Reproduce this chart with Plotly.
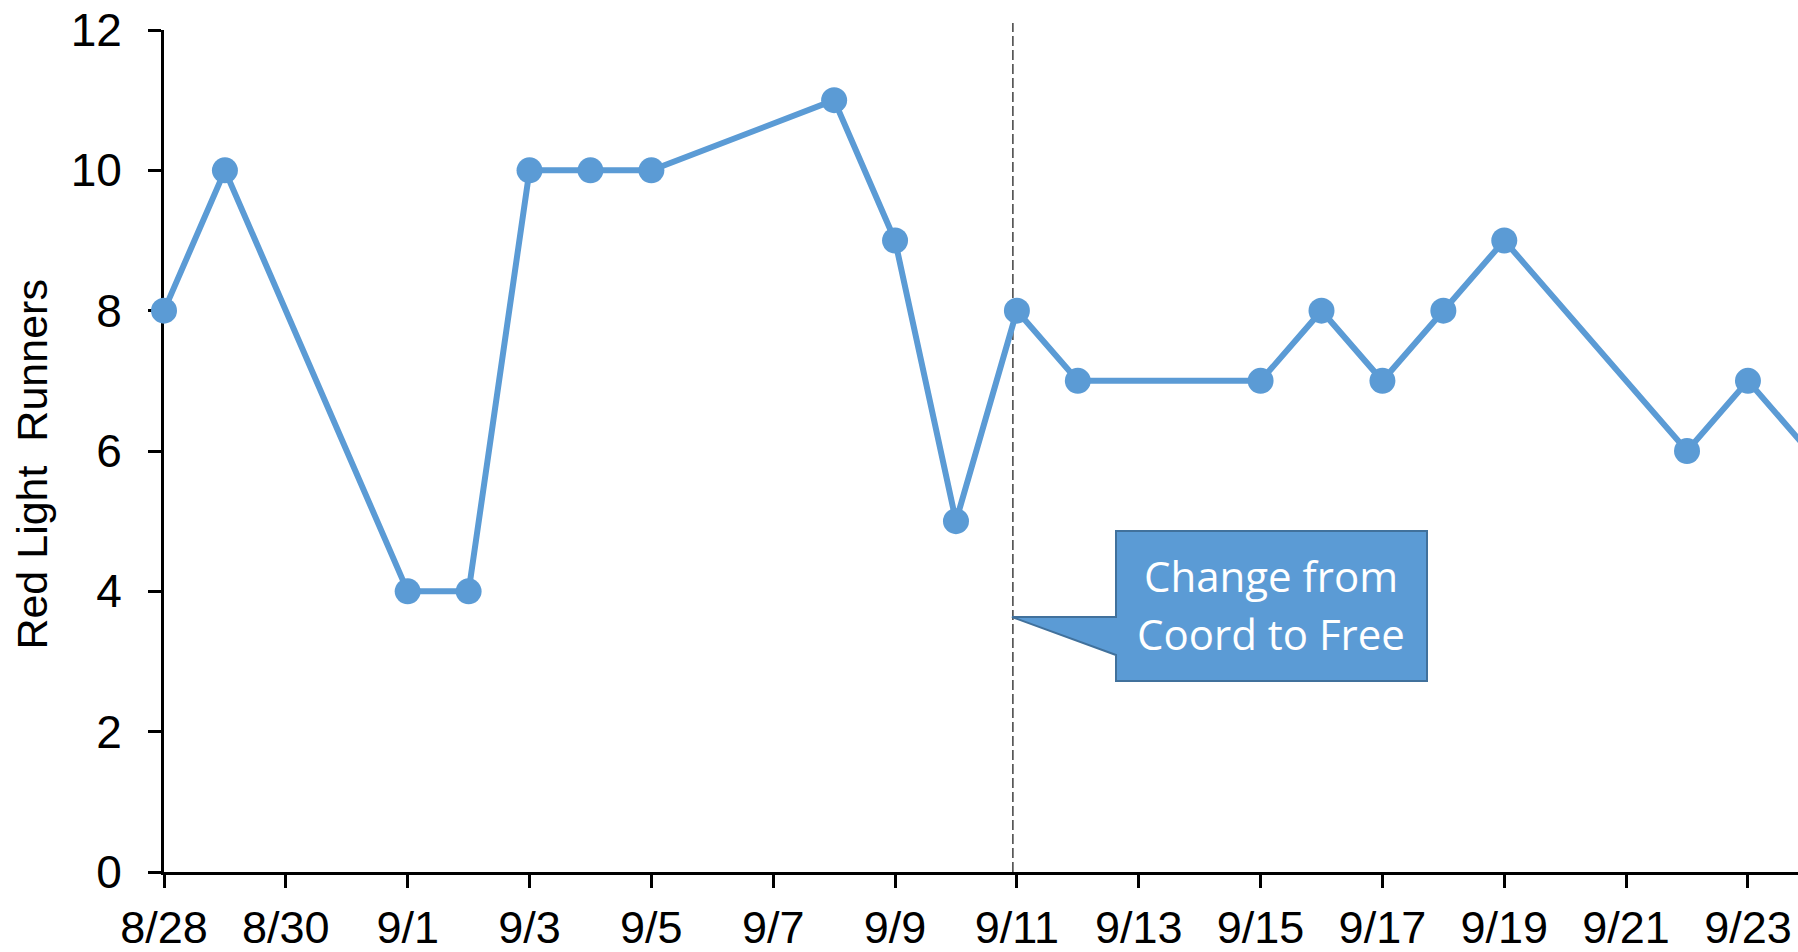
import plotly.graph_objects as go

# Daily counts of red light runners
dates = [
    "2014-08-28", "2014-08-29", "2014-09-01", "2014-09-02", "2014-09-03",
    "2014-09-04", "2014-09-05", "2014-09-08", "2014-09-09", "2014-09-10",
    "2014-09-11", "2014-09-12", "2014-09-15", "2014-09-16", "2014-09-17",
    "2014-09-18", "2014-09-19", "2014-09-22", "2014-09-23", "2014-09-24",
]
runners = [8, 10, 4, 4, 10, 10, 10, 11, 9, 5, 8, 7, 7, 8, 7, 8, 9, 6, 7, 6]

y_ticks = [0, 2, 4, 6, 8, 10, 12]
change_date = "2014-09-10 22:25"
callout_lines = ["Change from", "Coord to Free"]

BLUE = "#5B9BD5"
AXIS_FONT = dict(family="Arial, Liberation Sans, sans-serif", size=46, color="#000000")
X_FONT = dict(family="Arial, Liberation Sans, sans-serif", size=45, color="#000000")

fig = go.Figure()
fig.add_trace(go.Scatter(
    x=dates, y=runners, mode="lines+markers",
    line=dict(color=BLUE, width=6),
    marker=dict(color=BLUE, size=26),
    cliponaxis=False,
    showlegend=False,
))

# Dashed marker for the policy change
fig.add_shape(
    type="line", xref="x", yref="paper",
    x0=change_date, x1=change_date, y0=0, y1=1.0083,
    line=dict(color="#404040", width=1.5, dash="10px,4px"),
    layer="below",
)

# Speech-bubble callout pointing at the change line
fig.add_shape(
    type="path", xref="paper", yref="paper",
    path=("M 0.58262,0.40499 L 0.77295,0.40499 L 0.77295,0.22684 "
          "L 0.58262,0.22684 L 0.58262,0.25772 L 0.51897,0.30285 "
          "L 0.58262,0.30285 Z"),
    fillcolor=BLUE, line=dict(color="#41719C", width=2),
    layer="above",
)
for text, yp in zip(callout_lines, [0.3518, 0.2829]):
    fig.add_annotation(
        x=0.67778, y=yp, xref="paper", yref="paper",
        text=text, showarrow=False, xanchor="center", yanchor="middle",
        font=dict(family="Open Sans, Noto Sans, sans-serif", size=42, color="#FFFFFF"),
    )

# Rotated y-axis title
fig.add_annotation(
    x=-0.0808, y=0.485, xref="paper", yref="paper",
    text="Red Light  Runners", textangle=-90, showarrow=False,
    xanchor="center", yanchor="middle",
    font=dict(family="Arial, Liberation Sans, sans-serif", size=43, color="#000000"),
)

fig.update_layout(
    width=1798, height=952,
    margin=dict(l=164, r=0, t=30, b=80),
    paper_bgcolor="#FFFFFF", plot_bgcolor="#FFFFFF",
    xaxis=dict(
        type="date",
        range=["2014-08-28", "2014-09-23 19:43"],
        tick0="2014-08-28", dtick=172800000, tickformat="%-m/%-d",
        showgrid=False, zeroline=False,
        showline=True, linecolor="#000000", linewidth=3,
        ticks="outside", ticklen=13, tickwidth=3, tickcolor="#000000",
        tickfont=X_FONT, ticklabelstandoff=1,
        automargin=False,
        layer="below traces",
    ),
    yaxis=dict(
        range=[0, 12], tickvals=y_ticks,
        showgrid=False, zeroline=False,
        showline=True, linecolor="#000000", linewidth=3,
        ticks="outside", ticklen=13, tickwidth=3, tickcolor="#000000",
        tickfont=AXIS_FONT, ticklabelstandoff=17,
        automargin=False,
        layer="below traces",
    ),
)

fig.write_html("out.html")
